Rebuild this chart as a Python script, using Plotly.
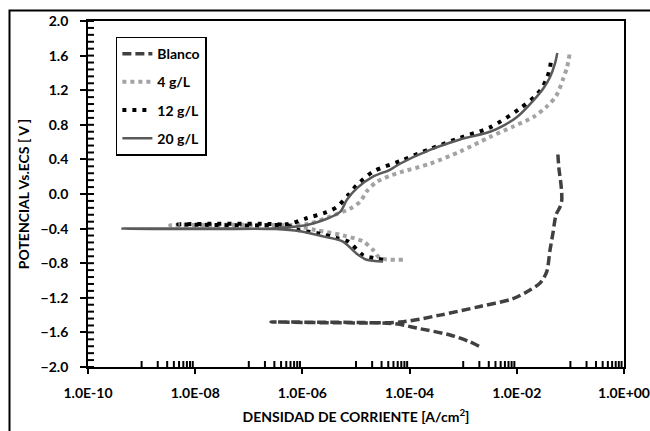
import plotly.graph_objects as go

# Polarization curves: current density (A/cm2) vs potential (V vs. SCE)
# Each curve runs cathodic end -> corrosion potential -> anodic end.

blanco_i = [1.97e-3, 1.34e-3, 5.7e-4, 1.36e-4, 5.3e-5, 2.6e-7, 6.6e-5, 3.7e-4, 2.06e-3,
            8.5e-3, 1.76e-2, 2.71e-2, 3.61e-2, 4.16e-2, 4.73e-2, 5.4e-2, 6.4e-2, 6.9e-2,
            6.7e-2, 6.1e-2, 5.8e-2]
blanco_e = [-1.76, -1.71, -1.63, -1.55, -1.50, -1.48, -1.48, -1.40, -1.30,
            -1.21, -1.11, -1.03, -0.90, -0.65, -0.45, -0.24, -0.15, -0.07,
            0.10, 0.30, 0.49]

g4_i = [7.5e-5, 2.8e-5, 2.1e-5, 1.37e-5, 5.8e-6, 1.85e-6, 7.3e-7, 3.4e-9, 5.9e-7,
        1.39e-6, 3.3e-6, 7.7e-6, 1.19e-5, 1.58e-5, 2.43e-5, 4.3e-5, 6.6e-5, 2.4e-4,
        8.7e-4, 3.16e-3, 8.6e-3, 2.03e-2, 3.61e-2, 5.5e-2, 7.4e-2, 8.7e-2, 9.8e-2]
g4_e = [-0.76, -0.74, -0.65, -0.55, -0.48, -0.42, -0.37, -0.36, -0.36,
        -0.34, -0.26, -0.17, -0.09, 0.03, 0.14, 0.21, 0.25, 0.35,
        0.49, 0.66, 0.78, 0.89, 1.01, 1.14, 1.34, 1.47, 1.64]

g12_i = [3.2e-5, 2.1e-5, 1.37e-5, 7.2e-6, 4.4e-6, 2.13e-6, 7.8e-7, 5.1e-7, 4.8e-9,
         5.1e-7, 1.2e-6, 2.84e-6, 4.4e-6, 7.2e-6, 1.03e-5, 2.1e-5, 6.6e-5, 2.4e-4,
         8.7e-4, 3.16e-3, 1.1e-2, 2.19e-2, 2.91e-2, 3.71e-2, 4.16e-2, 4.41e-2]
g12_e = [-0.76, -0.74, -0.71, -0.55, -0.51, -0.46, -0.41, -0.36, -0.35,
         -0.35, -0.28, -0.21, -0.15, -0.01, 0.10, 0.26, 0.38, 0.52,
         0.65, 0.77, 0.98, 1.13, 1.22, 1.35, 1.46, 1.58]

g20_i = [3.2e-5, 1.58e-5, 1.03e-5, 5.71e-6, 2.42e-6, 9.0e-7, 3.2e-7, 1.23e-8, 4.4e-10,
         3.2e-7, 1.39e-6, 5.0e-6, 6.7e-6, 1.03e-5, 2.07e-5, 4.3e-5, 6.6e-5, 2.4e-4,
         8.7e-4, 3.16e-3, 6.0e-3, 1.01e-2, 2.03e-2, 3.12e-2, 4.16e-2, 5.16e-2, 5.7e-2]
g20_e = [-0.78, -0.76, -0.69, -0.55, -0.49, -0.43, -0.405, -0.40, -0.40,
         -0.395, -0.35, -0.21, -0.07, 0.065, 0.20, 0.28, 0.35, 0.51,
         0.63, 0.72, 0.80, 0.89, 1.08, 1.22, 1.35, 1.51, 1.63]

x_tickvals = [1e-10, 1e-8, 1e-6, 1e-4, 1e-2, 1e0]
x_ticktext = ["1.0E-10", "1.0E-08", "1.0E-06", "1.0E-04", "1.0E-02", "1.0E+00"]

# Excel-style minor ticks: one decade of minor ticks inside each two-decade step
x_minor = [m * 10.0 ** (k + 1) for k in range(-10, 0, 2) for m in range(1, 10)]
# Minor ticks every 0.08 V on the potential axis
y_minor = [round(-2 + 0.08 * k, 2) for k in range(51)]

FONT = "Lato"
FS = 14
ML, MR, MT, MB = 88, 26, 21, 64
PW, PH = 650 - ML - MR, 431 - MT - MB
TICK_IN = 6  # inside tick length in px
Y0, Y1 = -2.0, 2.0
LX0, LX1 = -10.0, 0.0

fig = go.Figure()
fig.add_trace(go.Scatter(x=blanco_i, y=blanco_e, mode="lines", name="Blanco",
                         legendgroup="a",
                         line=dict(color="#404040", width=3.5, dash="9px,4px",
                                   shape="spline", smoothing=0.8)))
fig.add_trace(go.Scatter(x=g4_i, y=g4_e, mode="lines", name="4 g/L",
                         legendgroup="b",
                         line=dict(color="#a3a3a3", width=4, dash="4px,4px",
                                   shape="spline", smoothing=0.8)))
fig.add_trace(go.Scatter(x=g12_i, y=g12_e, mode="lines", name="12 g/L",
                         legendgroup="c",
                         line=dict(color="#000000", width=4, dash="4px,6px",
                                   shape="spline", smoothing=0.8)))
fig.add_trace(go.Scatter(x=g20_i, y=g20_e, mode="lines", name="20 g/L",
                         legendgroup="d",
                         line=dict(color="#5a5a5a", width=2.5,
                                   shape="spline", smoothing=0.8)))

# inside minor tick marks, drawn as short segments in axis units
dy = TICK_IN / PH * (Y1 - Y0)
dlx = TICK_IN / PW * (LX1 - LX0)
tx, ty = [], []
for v in x_minor:
    tx += [v, v, None]
    ty += [Y0, Y0 + dy, None]
for v in y_minor:
    tx += [10 ** LX0, 10 ** (LX0 + dlx), None]
    ty += [v, v, None]
fig.add_trace(go.Scatter(x=tx, y=ty, mode="lines", showlegend=False,
                         hoverinfo="skip", cliponaxis=False,
                         line=dict(color="#000000", width=2)))

frame = dict(type="rect", xref="paper", yref="paper",
             x0=(9.5 - ML) / PW, x1=1.3, y0=-0.3, y1=(431 - MB - 10.5) / PH,
             line=dict(color="#000000", width=2))

fig.update_layout(
    width=650, height=431,
    margin=dict(l=ML, r=MR, t=MT, b=MB, autoexpand=False),
    paper_bgcolor="white", plot_bgcolor="white",
    font=dict(family=FONT, size=FS, color="#000000", weight="bold"),
    showlegend=True,
    legend=dict(x=0.052, y=0.955, xanchor="left", yanchor="top",
                bgcolor="white", bordercolor="#000000", borderwidth=1.5,
                font=dict(family=FONT, size=FS, weight="bold"),
                tracegroupgap=7),
    xaxis=dict(type="log", range=[LX0, LX1], automargin=False,
               tickmode="array", tickvals=x_tickvals, ticktext=x_ticktext,
               ticks="outside", ticklen=5, tickwidth=1.5, tickcolor="#000000",
               ticklabelstandoff=7,
               showline=True, linecolor="#000000", linewidth=1.8, mirror=True,
               showgrid=False, zeroline=False,
               title=dict(text="DENSIDAD DE CORRIENTE [A/cm<sup>2</sup>]",
                          font=dict(family=FONT, size=FS, weight="bold"),
                          standoff=12)),
    yaxis=dict(range=[Y0, Y1], tickmode="linear", tick0=-2, dtick=0.4,
               tickformat=".1f", automargin=False,
               ticks="outside", ticklen=6, tickwidth=1.5, tickcolor="#000000",
               ticklabelstandoff=9,
               showline=True, linecolor="#000000", linewidth=1.8, mirror=True,
               showgrid=False, zeroline=False,
               title=dict(text="POTENCIAL Vs.ECS [ V ]",
                          font=dict(family=FONT, size=FS, weight="bold"),
                          standoff=8)),
    shapes=[frame],
)

fig.write_html("out.html")
